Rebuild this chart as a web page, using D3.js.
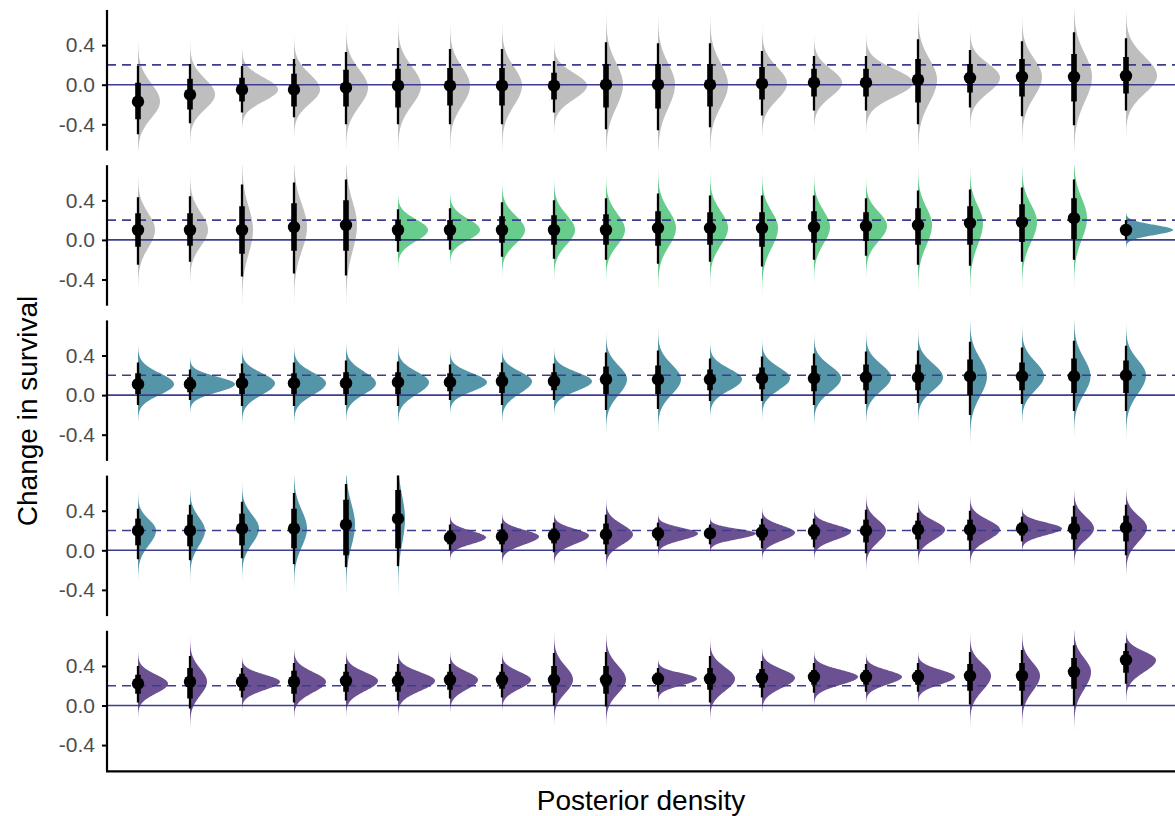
<!DOCTYPE html>
<html>
<head>
<meta charset="utf-8">
<script src="https://cdn.jsdelivr.net/npm/d3@7"></script>
<style>
  body { margin: 0; background: #fff; }
  svg { display: block; }
  text { font-family: "Liberation Sans", Arial, sans-serif; }
</style>
</head>
<body>
<svg id="chart" width="1175" height="816"></svg>
<script>
// Posterior summaries, one row per panel, 20 estimates per row.
const medians = [
  [-0.17,-0.10,-0.05,-0.05,-0.03,-0.01,-0.01,-0.01,-0.01,0.00,0.00,0.00,0.01,0.02,0.02,0.05,0.07,0.08,0.08,0.09],
  [0.10,0.10,0.10,0.13,0.15,0.10,0.10,0.10,0.10,0.10,0.12,0.12,0.12,0.13,0.14,0.15,0.17,0.18,0.22,0.10],
  [0.11,0.11,0.12,0.12,0.12,0.13,0.13,0.14,0.14,0.16,0.16,0.16,0.17,0.17,0.18,0.18,0.19,0.19,0.19,0.20],
  [0.20,0.20,0.22,0.22,0.26,0.32,0.13,0.14,0.15,0.16,0.17,0.17,0.18,0.19,0.20,0.21,0.21,0.22,0.22,0.23],
  [0.22,0.24,0.24,0.24,0.25,0.25,0.26,0.26,0.26,0.26,0.27,0.27,0.28,0.29,0.29,0.29,0.30,0.30,0.34,0.46]
];
// 95% interval bounds
const lower95 = [
  [-0.50,-0.39,-0.28,-0.33,-0.40,-0.40,-0.40,-0.40,-0.28,-0.45,-0.46,-0.43,-0.31,-0.26,-0.26,-0.40,-0.23,-0.32,-0.41,-0.26],
  [-0.25,-0.22,-0.37,-0.34,-0.36,-0.12,-0.10,-0.17,-0.19,-0.20,-0.24,-0.22,-0.27,-0.20,-0.16,-0.25,-0.26,-0.22,-0.20,0.00],
  [-0.10,-0.05,-0.11,-0.11,-0.10,-0.11,-0.05,-0.10,-0.05,-0.15,-0.14,-0.06,-0.06,-0.10,-0.09,-0.08,-0.20,-0.09,-0.16,-0.16],
  [-0.09,-0.10,-0.08,-0.14,-0.17,-0.16,0.00,-0.02,-0.02,-0.04,0.04,0.06,0.02,0.03,-0.03,0.01,0.00,0.09,0.00,-0.05],
  [0.03,-0.03,0.08,0.03,0.05,0.05,0.07,0.08,0.00,-0.01,0.14,0.03,0.08,0.13,0.14,0.14,0.01,0.00,0.00,0.22]
];
const upper95 = [
  [0.19,0.21,0.19,0.26,0.33,0.37,0.36,0.36,0.24,0.43,0.42,0.42,0.34,0.29,0.29,0.46,0.35,0.44,0.53,0.47],
  [0.43,0.44,0.56,0.58,0.61,0.31,0.32,0.38,0.40,0.42,0.47,0.45,0.45,0.45,0.42,0.50,0.51,0.53,0.61,0.20],
  [0.33,0.26,0.32,0.33,0.35,0.34,0.31,0.33,0.32,0.43,0.45,0.37,0.39,0.42,0.44,0.45,0.54,0.48,0.55,0.50],
  [0.42,0.46,0.49,0.58,0.67,0.76,0.26,0.27,0.28,0.36,0.28,0.26,0.32,0.32,0.41,0.38,0.40,0.34,0.45,0.46],
  [0.40,0.50,0.38,0.43,0.42,0.42,0.42,0.42,0.53,0.54,0.38,0.50,0.45,0.43,0.42,0.43,0.54,0.56,0.61,0.63]
];
// 66% interval bounds
const lower66 = [
  [-0.35,-0.25,-0.17,-0.22,-0.22,-0.23,-0.21,-0.21,-0.15,-0.23,-0.24,-0.22,-0.15,-0.12,-0.12,-0.18,-0.08,-0.12,-0.17,-0.09],
  [-0.07,-0.06,-0.14,-0.11,-0.11,-0.01,0.00,-0.03,-0.05,-0.05,-0.06,-0.05,-0.07,-0.03,-0.01,-0.05,-0.05,-0.02,0.01,0.06],
  [0.01,0.03,0.01,0.01,0.01,0.01,0.04,0.02,0.05,0.01,0.01,0.05,0.06,0.04,0.05,0.05,0.00,0.05,0.02,0.02],
  [0.05,0.04,0.05,0.02,-0.05,0.02,0.06,0.06,0.07,0.06,0.10,0.12,0.10,0.11,0.08,0.11,0.10,0.15,0.11,0.09],
  [0.12,0.07,0.15,0.12,0.14,0.14,0.16,0.17,0.13,0.12,0.21,0.16,0.18,0.21,0.21,0.21,0.15,0.15,0.17,0.33]
];
const upper66 = [
  [0.02,0.06,0.07,0.11,0.15,0.16,0.17,0.17,0.12,0.21,0.21,0.21,0.18,0.16,0.16,0.26,0.21,0.26,0.31,0.28],
  [0.27,0.27,0.34,0.37,0.40,0.20,0.20,0.24,0.25,0.26,0.29,0.28,0.28,0.29,0.28,0.32,0.34,0.36,0.42,0.14],
  [0.22,0.18,0.22,0.22,0.23,0.23,0.22,0.23,0.23,0.29,0.30,0.26,0.28,0.30,0.31,0.31,0.36,0.33,0.37,0.35],
  [0.32,0.36,0.37,0.42,0.51,0.61,0.20,0.21,0.22,0.27,0.23,0.22,0.26,0.26,0.31,0.30,0.31,0.28,0.34,0.35],
  [0.31,0.38,0.32,0.35,0.34,0.34,0.34,0.34,0.40,0.40,0.33,0.38,0.37,0.36,0.36,0.36,0.42,0.43,0.48,0.55]
];
// Peak posterior density of each estimate
const peakDensity = [
  [4.4,5.0,7.2,5.2,4.4,4.6,4.0,4.0,6.6,3.4,3.4,3.6,5.0,5.6,9.4,3.8,6.0,4.0,3.6,6.2],
  [3.4,3.6,2.2,2.6,2.2,6.0,6.0,4.6,4.2,3.8,3.6,3.6,3.2,3.2,4.2,2.8,2.6,3.0,2.6,9.4],
  [7.2,9.0,6.6,6.4,6.0,6.2,7.4,6.0,7.6,4.2,4.6,6.4,5.6,5.4,5.0,5.0,3.4,4.4,3.3,4.0],
  [3.6,3.0,3.4,2.6,1.8,1.4,7.2,7.4,7.0,5.4,8.0,9.2,6.6,7.4,4.0,5.4,6.0,8.0,4.0,4.2],
  [6.0,3.4,7.6,6.4,6.4,7.4,5.6,5.8,3.8,4.0,7.8,5.0,6.6,8.8,7.2,7.4,4.2,3.6,3.4,6.0]
];
// Fill group of each estimate
const groups = [
  Array(20).fill("grey"),
  [...Array(5).fill("grey"), ...Array(14).fill("green"), "teal"],
  Array(20).fill("teal"),
  [...Array(6).fill("teal"), ...Array(14).fill("purple")],
  Array(20).fill("purple")
];
const yTicks = [0.4, 0.0, -0.4];
const refSolid = 0.0;
const refDashed = 0.2;
const yTitle = "Change in survival";
const xTitle = "Posterior density";

const fills = { grey: "#bebebe", green: "#68cc8d", teal: "#5595a8", purple: "#6b5191" };
const refColor = "#3c3c90";

const svg = d3.select("#chart");
const W = 1175;
const left = 107, right = W;
const panelTop = 10, panelH = 140.5, panelStep = 155.2;

const x = d3.scalePoint().domain(d3.range(20)).range([138, 1126]);
const dScale = d3.scaleLinear().domain([0, 10]).range([0, 50]);

medians.forEach((row, p) => {
  const top = panelTop + p * panelStep;
  const y = d3.scaleLinear().domain([-0.665, 0.755]).range([top + panelH, top]);
  const g = svg.append("g");

  const clipId = "clip" + p;
  svg.append("clipPath").attr("id", clipId)
    .append("rect").attr("x", left).attr("y", top).attr("width", right - left).attr("height", panelH);

  const items = row.map((m, i) => ({
    i, m,
    lo95: lower95[p][i], hi95: upper95[p][i],
    lo66: lower66[p][i], hi66: upper66[p][i],
    peak: peakDensity[p][i], group: groups[p][i]
  }));

  // half-eye densities, one split-normal curve per estimate
  const dens = g.append("g").attr("clip-path", `url(#${clipId})`);
  items.forEach(d => {
    const sL = (d.m - d.lo95) / 1.96, sH = (d.hi95 - d.m) / 1.96;
    const pts = [];
    const n = 90;
    for (let k = 0; k <= n; k++) pts.push(d.m - 4 * sL + (k / n) * 4 * sL);
    for (let k = 1; k <= n; k++) pts.push(d.m + (k / n) * 4 * sH);
    const f = v => {
      const z = v < d.m ? (v - d.m) / sL : (v - d.m) / sH;
      return d.peak * Math.exp(-0.5 * z * z);
    };
    const cx = x(d.i);
    const area = d3.area()
      .y(v => y(v))
      .x0(cx)
      .x1(v => cx + dScale(f(v)))
      .curve(d3.curveBasis);
    dens.append("path").attr("d", area(pts)).attr("fill", fills[d.group]);
  });

  // reference lines
  const refs = g.append("g");
  refs.append("line").attr("x1", left).attr("x2", right)
    .attr("y1", y(refSolid)).attr("y2", y(refSolid))
    .attr("stroke", refColor).attr("stroke-width", 1.6);
  refs.append("line").attr("x1", left).attr("x2", right)
    .attr("y1", y(refDashed)).attr("y2", y(refDashed))
    .attr("stroke", refColor).attr("stroke-width", 1.6).attr("stroke-dasharray", "9,6");

  // intervals and medians
  const iv = g.append("g").attr("clip-path", `url(#${clipId})`);
  iv.selectAll("line.thin").data(items).join("line").attr("class", "thin")
    .attr("x1", d => x(d.i)).attr("x2", d => x(d.i))
    .attr("y1", d => y(d.lo95)).attr("y2", d => y(d.hi95))
    .attr("stroke", "#000").attr("stroke-width", 2.3);
  iv.selectAll("line.thick").data(items).join("line").attr("class", "thick")
    .attr("x1", d => x(d.i)).attr("x2", d => x(d.i))
    .attr("y1", d => y(d.lo66)).attr("y2", d => y(d.hi66))
    .attr("stroke", "#000").attr("stroke-width", 5.6);
  iv.selectAll("circle").data(items).join("circle")
    .attr("cx", d => x(d.i)).attr("cy", d => y(d.m)).attr("r", 6.2).attr("fill", "#000");

  // y axis
  const ax = svg.append("g").attr("transform", `translate(${left},0)`)
    .call(d3.axisLeft(y).tickValues(yTicks).tickSize(5).tickPadding(7));
  ax.attr("font-size", null).attr("font-family", null);
  ax.select(".domain").attr("stroke", "#000").attr("stroke-width", 2.2)
    .attr("d", `M0,${top}V${top + panelH}`);
  ax.selectAll(".tick line").attr("stroke", "#000").attr("stroke-width", 2);
  ax.selectAll(".tick text").attr("fill", "#4d4d4d").style("font-size", "21px")
    .text(d => d3.format(".1f")(d).replace("\u2212", "-"));

  if (p === medians.length - 1) {
    svg.append("line").attr("x1", left - 1).attr("x2", right)
      .attr("y1", top + panelH).attr("y2", top + panelH)
      .attr("stroke", "#000").attr("stroke-width", 2.2);
  }
});

svg.append("text").attr("transform", "translate(37,411) rotate(-90)")
  .attr("text-anchor", "middle").style("font-size", "28px").attr("fill", "#000").text(yTitle);
svg.append("text").attr("x", 641).attr("y", 810)
  .attr("text-anchor", "middle").style("font-size", "28px").attr("fill", "#000").text(xTitle);
</script>
</body>
</html>
